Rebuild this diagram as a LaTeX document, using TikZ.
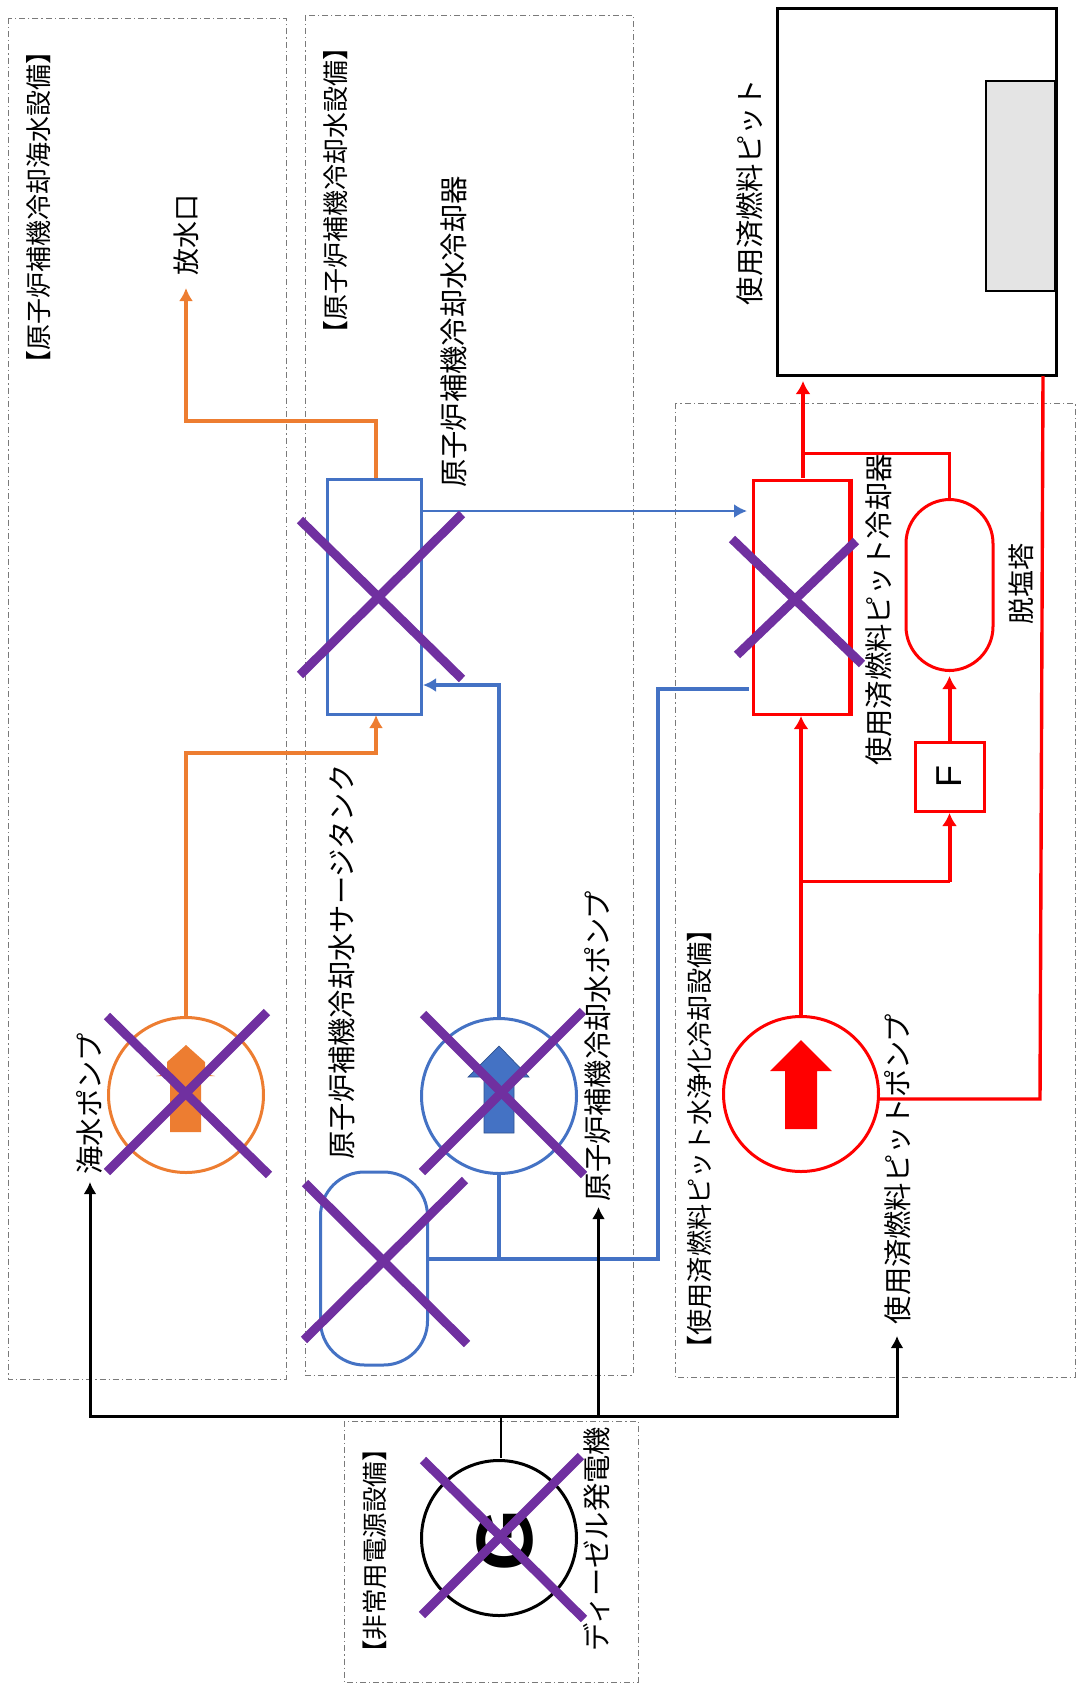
\documentclass[tikz,border=0pt]{standalone}
\usepackage{fontspec}
\usetikzlibrary{arrows.meta}
\newfontfamily\cjk{Noto Sans CJK JP}
\setmainfont{Liberation Sans}
\definecolor{ored}{HTML}{ED7D31}
\definecolor{blu}{HTML}{4472C4}
\definecolor{bludk}{HTML}{2F528F}
\definecolor{rd}{HTML}{FF0000}
\definecolor{purp}{HTML}{7030A0}
\definecolor{pitgrey}{HTML}{E4E4E4}
\definecolor{dashgrey}{HTML}{7A7A7A}
\tikzset{
  area/.style={draw=dashgrey,line width=0.9pt,dash pattern=on 6pt off 3pt on 1.2pt off 3pt},
  lbl/.style={rotate=90,inner sep=0pt,text=black},
  lblM/.style={lbl,font=\cjk\fontsize{28.3}{28.3}\selectfont},
  lblS/.style={lbl,font=\cjk\fontsize{26}{26}\selectfont},
  pumpc/.style={circle,draw=#1,fill=white,line width=3pt,minimum size=155pt,inner sep=0pt},
  boxc/.style={rectangle,draw=#1,line width=3pt,inner sep=0pt},
  tankc/.style={rectangle,draw=#1,fill=white,line width=3pt,inner sep=0pt,rounded corners=44pt},
  ln/.style={draw=#1,line width=3.4pt,-{Latex[length=13pt,width=14pt]}},
  lnplain/.style={draw=#1,line width=3.4pt},
  xmark/.style={draw=purp,line width=9pt},
}
\begin{document}
\begin{tikzpicture}[x=1pt,y=-1pt]
\useasboundingbox (0,0) rectangle (1077,1686);
% dashed areas
\draw[area] (8.5,18) rectangle (286,1379);
\draw[area] (305,15) rectangle (633,1375);
\draw[area] (675,403) rectangle (1075,1377);
\draw[area] (344,1421) rectangle (638,1682);
% nodes
\node[pumpc=ored] (opump) at (186,1095) {};
\node[pumpc=blu] (bpump) at (499,1096) {};
\node[pumpc=rd] (rpump) at (801,1094) {};
\node[pumpc=black] (gen) at (499,1538) {};
\node[tankc=blu,minimum width=107pt,minimum height=193pt] (surge) at (374,1268.5) {};
\node[boxc=blu,minimum width=94pt,minimum height=235pt] (coolA) at (374,596.5) {};
\node[boxc=rd,minimum width=96pt,minimum height=234pt] (coolB) at (801,597) {};
\node[tankc=rd,minimum width=87pt,minimum height=171pt] (tower) at (949.5,585) {};
\node[boxc=rd,minimum width=69pt,minimum height=69pt] (fbox) at (949.5,776.5) {};
\node[rectangle,draw=black,line width=3pt,minimum width=279pt,minimum height=366pt,inner sep=0pt] (pit) at (916.5,192) {};
\node[rectangle,draw=black,fill=pitgrey,line width=2.2pt,minimum width=69pt,minimum height=210pt,inner sep=0pt] (rack) at (1020.5,186) {};
% thick side of the red cooler
\draw[rd,line width=4.5pt] (coolB.north east) -- (coolB.south east);
% free ends and bends
\coordinate (o1) at (186,753);
\coordinate (o2) at (376,753);
\coordinate (o3) at (376,715);
\coordinate (o4) at (376,478);
\coordinate (o5) at (376,421);
\coordinate (o6) at (186,421);
\coordinate (o7) at (186,288);
\coordinate (b1) at (499,685);
\coordinate (b2) at (423,685);
\coordinate (b3) at (499,1259);
\coordinate (b4) at (428,1259);
\coordinate (b5) at (658,1259);
\coordinate (b6) at (658,689);
\coordinate (b7) at (749,689);
\coordinate (b8) at (421,511);
\coordinate (b9) at (747,511);
\coordinate (r1) at (801,716);
\coordinate (r2) at (803,478);
\coordinate (r3) at (803,381);
\coordinate (r4) at (803,453.5);
\coordinate (r5) at (949.5,453.5);
\coordinate (r6) at (801,881.5);
\coordinate (r7) at (949.5,881.5);
\coordinate (r8) at (949.5,813);
\coordinate (r9) at (949.5,676);
\coordinate (r10) at (878,1099);
\coordinate (r11) at (1040,1099);
\coordinate (r12) at (1043,376);
\coordinate (k0) at (90,1416);
\coordinate (k1) at (90,1182);
\coordinate (k2) at (598.5,1416);
\coordinate (k3) at (598.5,1207);
\coordinate (k4) at (897,1416);
\coordinate (k5) at (897,1336);
\coordinate (k6) at (501,1416);
\coordinate (k7) at (501,1458);
% connectors
\draw[ln=ored] (opump.north) -- (o1) -- (o2) -- (o3);
\draw[ln=ored] (o4) -- (o5) -- (o6) -- (o7);
\draw[ln=blu] (bpump.north) -- (b1) -- (b2);
\draw[lnplain=blu] (bpump.south) -- (b3);
\draw[lnplain=blu] (b4) -- (b5) -- (b6) -- (b7);
\draw[draw=blu,line width=2.8pt,-{Latex[length=13pt,width=14pt]}] (b8) -- (b9);
\draw[draw=rd,line width=4.5pt,-{Latex[length=13pt,width=15pt]}] (rpump.north) -- (r1);
\draw[draw=rd,line width=4.5pt,-{Latex[length=13pt,width=15pt]}] (r2) -- (r3);
\draw[lnplain=rd] (r4) -- (r5) -- (tower.north);
\draw[lnplain=rd] (r6) -- (r7);
\draw[draw=rd,line width=4pt,-{Latex[length=13pt,width=15pt]}] (r7) -- (r8);
\draw[draw=rd,line width=4pt,-{Latex[length=13pt,width=15pt]}] (fbox.north) -- (r9);
\draw[lnplain=rd] (r10) -- (r11) -- (r12);
\draw[draw=black,line width=3pt,-{Latex[length=12pt,width=13pt]}] (k2) -- (k0) -- (k1);
\draw[draw=black,line width=3pt,-{Latex[length=12pt,width=13pt]}] (k2) -- (k3);
\draw[draw=black,line width=3pt,-{Latex[length=12pt,width=13pt]}] (k2) -- (k4) -- (k5);
\draw[draw=black,line width=2.6pt] (k6) -- (k7);
% pump arrows
\fill[ored] (186,1045) -- (205,1062) -- (205,1074) -- (215,1076) -- (201,1076) -- (201,1132) -- (170,1132) -- (170,1076) -- (156,1076) -- (167,1074) -- (167,1062) -- cycle;
\filldraw[fill=blu,draw=bludk,line width=0.7pt] (499,1046) -- (529,1077) -- (514,1077) -- (514,1133) -- (484,1133) -- (484,1077) -- (468,1077) -- cycle;
\fill[rd] (801,1040) -- (832,1071) -- (817,1071) -- (817,1129) -- (785,1129) -- (785,1071) -- (770,1071) -- cycle;
% generator letter
\node[inner sep=0pt,rotate=90,font=\fontsize{80}{80}\selectfont\bfseries] (gletter) at (505,1540) {G};
% crosses
\draw[xmark] (107,1016) -- (269,1175);
\draw[xmark] (267,1012) -- (107,1172);
\draw[xmark] (423,1014) -- (584,1175);
\draw[xmark] (583,1011) -- (422,1172);
\draw[xmark] (305,1183) -- (467,1344);
\draw[xmark] (465,1180) -- (304,1340);
\draw[xmark] (423,1460) -- (584,1619);
\draw[xmark] (581,1456) -- (422,1615);
\draw[xmark] (300,520) -- (462,679);
\draw[xmark] (462,514) -- (300,675);
\draw[xmark] (732,539) -- (862,664);
\draw[xmark] (856,541) -- (737,655);
% texts
\node[lblS] (t1) at (39,207) {【原子炉補機冷却海水設備】};
\node[lbl,font=\cjk\fontsize{27}{27}\selectfont] (t2) at (186,235) {放水口};
\node[lblS] (t3) at (336,190) {【原子炉補機冷却水設備】};
\node[lblM] (t4) at (454,332) {原子炉補機冷却水冷却器};
\node[lblM] (t5) at (90,1104) {海水ポンプ};
\node[lblM] (t6) at (342,962) {原子炉補機冷却水サージタンク};
\node[lblM] (t7) at (598,1046) {原子炉補機冷却水ポンプ};
\node[lbl,font=\cjk\fontsize{25.5}{25.5}\selectfont] (t8) at (375,1551) {【非常用電源設備】};
\node[lblM] (t9) at (597,1539) {ディーゼル発電機};
\node[lblM] (t10) at (750,192) {使用済燃料ピット};
\node[lblM] (t11) at (879,610) {使用済燃料ピット冷却器};
\node[lbl,font=\cjk\fontsize{27}{27}\selectfont] (t12) at (1021,584) {脱塩塔};
\node[lbl,font=\cjk\fontsize{26.2}{26.2}\selectfont] (t13) at (700,1139) {【使用済燃料ピット水浄化冷却設備】};
\node[lblM] (t14) at (898,1169) {使用済燃料ピットポンプ};
\node[lbl,font=\fontsize{36}{36}\selectfont] (t15) at (fbox.center) {F};
\end{tikzpicture}
\end{document}
